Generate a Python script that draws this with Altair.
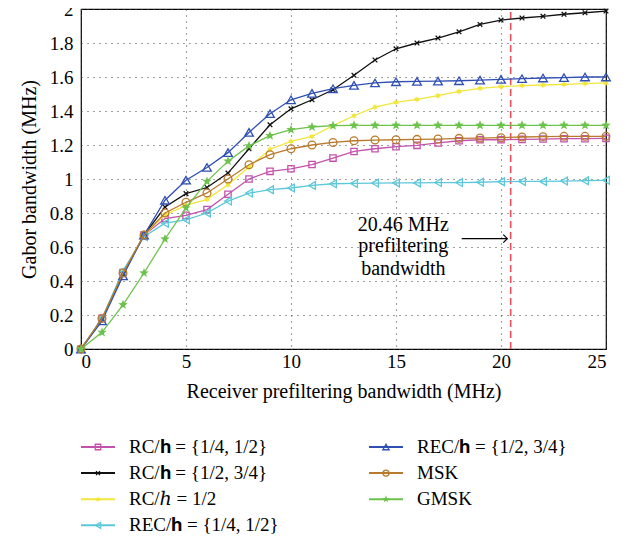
import math
import altair as alt
import pandas as pd

FONT = "Liberation Serif, DejaVu Serif, serif"

bandwidth = list(range(26))
rc_quarter_half = [0, 0.18, 0.45, 0.67, 0.767, 0.786, 0.82, 0.91, 1.0, 1.045, 1.06, 1.085, 1.123,
                   1.162, 1.178, 1.19, 1.198, 1.212, 1.225, 1.231, 1.231, 1.233, 1.235, 1.237, 1.237, 1.239]
rc_half_3q = [0, 0.175, 0.44, 0.67, 0.835, 0.914, 0.95, 1.035, 1.178, 1.319, 1.413, 1.466, 1.525,
              1.61, 1.70, 1.766, 1.80, 1.829, 1.866, 1.909, 1.935, 1.947, 1.957, 1.969, 1.978, 1.988]
rc_h_half = [0, 0.18, 0.45, 0.67, 0.79, 0.845, 0.88, 0.966, 1.07, 1.175, 1.221, 1.25, 1.314,
             1.372, 1.423, 1.451, 1.468, 1.49, 1.515, 1.533, 1.543, 1.549, 1.553, 1.557, 1.561, 1.565]
rec_quarter_half = [0, 0.18, 0.46, 0.66, 0.74, 0.76, 0.80, 0.87, 0.917, 0.937, 0.947, 0.962, 0.972,
                    0.974, 0.976, 0.977, 0.977, 0.979, 0.979, 0.981, 0.984, 0.986, 0.986, 0.988, 0.99, 0.992]
rec_half_3q = [0, 0.165, 0.43, 0.67, 0.875, 0.993, 1.068, 1.155, 1.274, 1.384, 1.466, 1.504, 1.531,
               1.551, 1.565, 1.572, 1.574, 1.576, 1.578, 1.582, 1.586, 1.59, 1.594, 1.596, 1.60, 1.60]
msk = [0, 0.18, 0.447, 0.67, 0.80, 0.863, 0.918, 1.0, 1.084, 1.143, 1.178, 1.2, 1.215,
       1.225, 1.229, 1.231, 1.233, 1.235, 1.239, 1.241, 1.243, 1.247, 1.249, 1.251, 1.251, 1.251]
gmsk = [0, 0.098, 0.26, 0.447, 0.647, 0.83, 0.986, 1.105, 1.195, 1.255, 1.29, 1.306, 1.314,
        1.316, 1.316, 1.316, 1.316, 1.316, 1.316, 1.316, 1.316, 1.316, 1.316, 1.316, 1.316, 1.316]

BH = "\U0001D421"   # bold h
IH = "\u210E"       # italic h
series_names = [
    f"RC/{BH} = {{1/4, 1/2}}",
    f"RC/{BH} = {{1/2, 3/4}}",
    f"RC/{IH} = 1/2",
    f"REC/{BH} = {{1/4, 1/2}}",
    f"REC/{BH} = {{1/2, 3/4}}",
    "MSK",
    "GMSK",
]
series_values = [rc_quarter_half, rc_half_3q, rc_h_half, rec_quarter_half, rec_half_3q, msk, gmsk]


def star_path(points, inner):
    pts = []
    for k in range(2 * points):
        r = 1.0 if k % 2 == 0 else inner
        ang = -math.pi / 2 + k * math.pi / points
        pts.append(f"{r * math.cos(ang):.3f},{r * math.sin(ang):.3f}")
    return "M" + "L".join(pts) + "Z"


STAR5 = star_path(5, 0.42)
STAR6 = star_path(6, 0.5)
XMARK = "M-1,-1L1,1M1,-1L-1,1"

colors = ["#c452ad", "#111111", "#f2e63a", "#5cc8da", "#2f4fb2", "#b87a2c", "#6cc24c"]
shapes = ["square", XMARK, STAR6, "triangle-left", "triangle-up", "circle", STAR5]
sizes = [40, 22, 45, 60, 75, 60, 100]
leg_sizes = [30, 16, 36, 36, 40, 36, 60]
filled = [False, False, True, False, False, False, True]

cut_off = 20.46
ann_lines = ["20.46 MHz", "prefiltering", "bandwidth"]
ann_y = [0.731, 0.604, 0.47]
ann_x = 15.35
arrow_x = [18.13, 20.3]
arrow_y = 0.649
x_ticks = [0, 5, 10, 15, 20, 25]
y_ticks = [0, 0.2, 0.4, 0.6, 0.8, 1, 1.2, 1.4, 1.6, 1.8, 2]

W, H = 525, 340
xs = alt.Scale(domain=[0, 25], nice=False)
ys = alt.Scale(domain=[0, 2], nice=False)
x_axis = alt.Axis(values=x_ticks, title="Receiver prefiltering bandwidth (MHz)",
                  labelPadding=3, titlePadding=10, labelOverlap=False)
y_axis = alt.Axis(values=y_ticks, format="~g", title="Gabor bandwidth (MHz)",
                  labelPadding=8, titlePadding=10, labelOverlap=False)


def X(field):
    return alt.X(field, scale=xs, axis=x_axis)


def Y(field):
    return alt.Y(field, scale=ys, axis=y_axis)


vline = alt.Chart(pd.DataFrame({"x": [cut_off], "y": [0.0], "y2": [2.0]})).mark_rule(
    color="#e8505b", strokeDash=[7, 4], strokeWidth=1.6).encode(
    x=X("x:Q"), y=Y("y:Q"), y2="y2:Q")

layers = [vline]
for name, vals, c, s, sz, f in zip(series_names, series_values, colors, shapes, sizes, filled):
    sdf = pd.DataFrame({"x": bandwidth, "y": vals})
    b = alt.Chart(sdf).encode(x=X("x:Q"), y=Y("y:Q"))
    layers.append(b.mark_line(color=c, strokeWidth=1.3))
    if f:
        layers.append(b.mark_point(shape=s, size=sz, color=c, filled=True, opacity=1))
    else:
        layers.append(b.mark_point(shape=s, size=sz, color=c, filled=False,
                                   strokeWidth=1.3, opacity=1))

ann = alt.Chart(pd.DataFrame({"x": [ann_x] * 3, "y": ann_y, "t": ann_lines})).mark_text(
    font=FONT, fontSize=20, color="black", align="center", baseline="middle").encode(
    x=X("x:Q"), y=Y("y:Q"), text="t:N")
arrow = alt.Chart(pd.DataFrame({"x": [arrow_x[0]], "x2": [arrow_x[1]], "y": [arrow_y]})).mark_rule(
    color="black", strokeWidth=1.2).encode(x=X("x:Q"), x2="x2:Q", y=Y("y:Q"))
head = alt.Chart(pd.DataFrame({"x": [arrow_x[1]], "y": [arrow_y]})).mark_point(
    shape="M-1,-1L0,0L-1,1", size=64, color="black", strokeWidth=1.2, filled=False, opacity=1).encode(
    x=X("x:Q"), y=Y("y:Q"))
layers += [ann, arrow, head]
main = alt.layer(*layers)

# legend drawn below the plot, on identity pixel scales of its own
lxs = alt.Scale(domain=[0, W], nice=False, zero=False)
lys = alt.Scale(domain=[H, 0], nice=False, zero=False)
leg_layers = []
for i, (name, c, s, lsz, f) in enumerate(zip(series_names, colors, shapes, leg_sizes, filled)):
    col, row = i // 4, i % 4
    off = col * 288
    d = pd.DataFrame({"x0": [0 + off], "x1": [34 + off], "xm": [17 + off],
                      "xt": [48 + off], "yp": [438 + row * 26.1], "label": [name]})
    lb = alt.Chart(d).encode(y=alt.Y("yp:Q", scale=lys, axis=None))
    leg_layers.append(lb.mark_rule(color=c, strokeWidth=2).encode(
        x=alt.X("x0:Q", scale=lxs, axis=None), x2="x1:Q"))
    if f:
        leg_layers.append(lb.mark_point(shape=s, size=lsz, color=c, filled=True,
                                        opacity=1).encode(x=alt.X("xm:Q", scale=lxs, axis=None)))
    else:
        leg_layers.append(lb.mark_point(shape=s, size=lsz, color=c, filled=False,
                                        strokeWidth=1.3, opacity=1).encode(
            x=alt.X("xm:Q", scale=lxs, axis=None)))
    leg_layers.append(lb.mark_text(font=FONT, fontSize=19, color="black", align="left",
                                   baseline="middle").encode(
        x=alt.X("xt:Q", scale=lxs, axis=None), text="label:N"))
legend = alt.layer(*leg_layers)

chart = alt.layer(main, legend).resolve_scale(x="independent", y="independent").properties(
    width=W, height=H,
    autosize=alt.AutoSizeParams(type="none"),
    padding={"left": 73, "top": 1, "right": 24, "bottom": 190},
).configure_axis(
    labelFont=FONT, titleFont=FONT, labelFontSize=19, titleFontSize=20,
    titleFontWeight="normal", labelColor="black", titleColor="black",
    domain=False, ticks=False, grid=True, gridColor="#444", gridDash=[1, 5], gridWidth=1.1
).configure_view(stroke="black", strokeWidth=1.2)

chart.save("out.html", embed_options={"renderer": "svg", "actions": False})
